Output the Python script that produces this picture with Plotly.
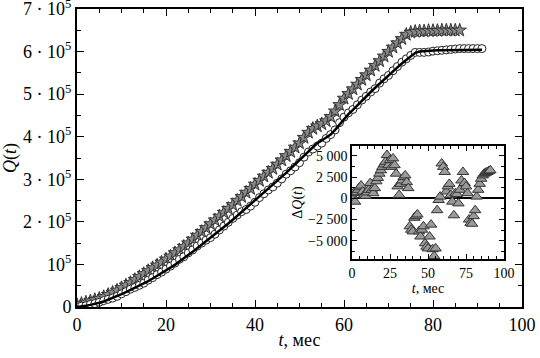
import plotly.graph_objects as go

# ---- data (Q values in thousands) ----
t_stars = list(range(0, 87))
q_stars_k = [5, 8, 11, 14, 17, 20, 24, 29, 34, 39, 45, 51, 57, 64, 71, 78, 85, 92, 98, 105,
             112, 119, 127, 134, 142, 150, 159, 168, 177, 186, 195, 204, 213, 222, 231, 240,
             250, 259, 269, 278, 288, 297, 307, 316, 325, 335, 345, 355, 365, 375, 385, 398,
             410, 419, 425, 430, 437, 447, 460, 475, 490, 501, 512, 523, 534, 545, 556, 567,
             578, 589, 600, 610, 620, 630, 640, 645, 647, 648, 648, 649, 649, 649, 650, 650,
             650, 650, 650]

t_model = list(range(0, 92))
q_model_k = [0, 1, 3, 5, 7, 10, 13, 17, 21, 25, 30, 35, 40, 45, 50, 55, 61, 67, 73, 79,
             85, 92, 99, 107, 114, 122, 130, 138, 146, 154, 162, 171, 179, 188, 196, 205,
             214, 223, 232, 241, 250, 259, 268, 277, 286, 295, 305, 315, 325, 335, 345, 356,
             367, 377, 385, 391, 397, 405, 416, 429, 442, 453, 463, 474, 484, 495, 505, 515,
             525, 535, 545, 554, 563, 572, 581, 590, 597, 600, 601, 602, 603, 603, 603, 603,
             604, 604, 604, 604, 604, 604, 604, 604]

t_circ = list(range(0, 92))
q_circ_k = [0, 2, 3, 6, 8, 11, 15, 18, 21, 25, 31, 36, 42, 46, 51, 56, 63, 69, 76, 82,
            89, 96, 103, 112, 118, 127, 134, 143, 150, 157, 163, 171, 181, 190, 199, 208,
            216, 224, 229, 237, 246, 257, 266, 275, 282, 291, 301, 312, 320, 329, 339, 352,
            364, 371, 378, 385, 396, 405, 416, 433, 446, 456, 464, 475, 486, 495, 505, 513,
            526, 536, 544, 555, 565, 575, 583, 591, 598, 598, 598, 599, 601, 602, 603, 604,
            605, 606, 607, 607, 607, 607, 607, 607]

t_delta = list(range(0, 92))
dq = [300, 600, -400, 700, 1000, 1300, 1500, 800, 400, 300, 700, 1000, 1800, 1000, 600,
      1200, 2000, 2400, 2900, 3300, 3700, 4000, 4300, 5100, 3900, 4500, 3700, 4700, 3900,
      2900, 1400, 400, 1700, 2100, 2500, 2700, 1900, 1200, -3300, -3700, -3900, -2300,
      -2100, -1900, -3900, -4500, -3700, -3300, -5300, -5700, -5900, -4500, -3100, -6000,
      -6800, -5900, -1400, -200, 200, 4100, 3700, 3100, 800, 1400, 1700, 400, -400, -2000,
      600, 500, -600, 1000, 2100, 3100, 1800, 1400, 600, -2500, -2900, -3000, -2100, -1400,
      200, 1000, 1700, 2300, 2700, 2900, 3000, 3100, 3200, 3300]

y_tickvals = [0, 1e5, 2e5, 3e5, 4e5, 5e5, 6e5, 7e5]
y_ticktext = ["0", "10<sup>5</sup>", "2 · 10<sup>5</sup>", "3 · 10<sup>5</sup>",
              "4 · 10<sup>5</sup>", "5 · 10<sup>5</sup>", "6 · 10<sup>5</sup>", "7 · 10<sup>5</sup>"]
inset_yvals = [-5000, -2500, 0, 2500, 5000]
inset_ytext = ["−5 000", "−2 500", "0", "2 500", "5 000"]

FONT = "Liberation Serif"

fig = go.Figure()
fig.add_trace(go.Scatter(x=t_stars, y=[v * 1000 for v in q_stars_k], mode="markers",
                         marker=dict(symbol="star", size=10, color="#8a8a8a",
                                     line=dict(color="#333333", width=1)),
                         xaxis="x", yaxis="y", showlegend=False))
fig.add_trace(go.Scatter(x=t_circ, y=[v * 1000 for v in q_circ_k], mode="markers",
                         marker=dict(symbol="circle", size=8, color="white",
                                     line=dict(color="#222222", width=1)),
                         xaxis="x", yaxis="y", showlegend=False))
fig.add_trace(go.Scatter(x=t_model, y=[v * 1000 for v in q_model_k], mode="lines",
                         line=dict(color="black", width=2.5),
                         xaxis="x", yaxis="y", showlegend=False))
fig.add_trace(go.Scatter(x=t_delta, y=dq, mode="markers",
                         marker=dict(symbol="triangle-up", size=10, color="#9a9a9a",
                                     line=dict(color="#333333", width=1)),
                         xaxis="x2", yaxis="y2", showlegend=False))

axis_common = dict(showline=True, linecolor="black", mirror="allticks", ticks="inside",
                   tickcolor="black", showgrid=False, zeroline=False, automargin=False,
                   ticklabeloverflow="allow",
                   tickfont=dict(family=FONT, size=18, color="black"))

fig.update_layout(
    width=540, height=358,
    margin=dict(l=77, r=18, t=9, b=51),
    paper_bgcolor="white", plot_bgcolor="white",
    font=dict(family=FONT, color="black"),
    xaxis=dict(axis_common, range=[0, 100], dtick=20, tick0=0, ticklen=7, linewidth=2,
               minor=dict(dtick=5, ticklen=4, ticks="inside", tickcolor="black"),
               title=dict(text="<i>t</i>, мес", font=dict(family=FONT, size=18), standoff=0)),
    yaxis=dict(axis_common, range=[0, 7e5], tickvals=y_tickvals, ticktext=y_ticktext,
               ticklen=7, linewidth=2,
               minor=dict(tickvals=[5e4, 1.5e5, 2.5e5, 3.5e5, 4.5e5, 5.5e5, 6.5e5],
                          ticklen=4, ticks="inside", tickcolor="black"),
               title=dict(text="<i>Q</i>(<i>t</i>)", font=dict(family=FONT, size=18), standoff=2)),
    xaxis2=dict(axis_common, domain=[0.618, 0.9596], anchor="y2", range=[0, 100],
                dtick=25, tick0=0, ticklen=5, linewidth=1.5,
                tickfont=dict(family=FONT, size=14, color="black"),
                minor=dict(dtick=5, ticklen=3, ticks="inside", tickcolor="black"),
                title=dict(text="<i>t</i>, мес", font=dict(family=FONT, size=14), standoff=0)),
    yaxis2=dict(axis_common, domain=[0.161, 0.540], anchor="x2", range=[-7150, 6150],
                tickvals=inset_yvals, ticktext=inset_ytext, ticklen=5, linewidth=1.5,
                tickfont=dict(family=FONT, size=14, color="black"),
                zeroline=True, zerolinecolor="black", zerolinewidth=1.5,
                minor=dict(dtick=1250, tick0=0, ticklen=3, ticks="inside", tickcolor="black"),
                title=dict(text="Δ<i>Q</i>(<i>t</i>)", font=dict(family=FONT, size=14), standoff=2)),
)

fig.write_html("out.html", config={"displayModeBar": False},
               post_script="document.body.style.margin='0';")
